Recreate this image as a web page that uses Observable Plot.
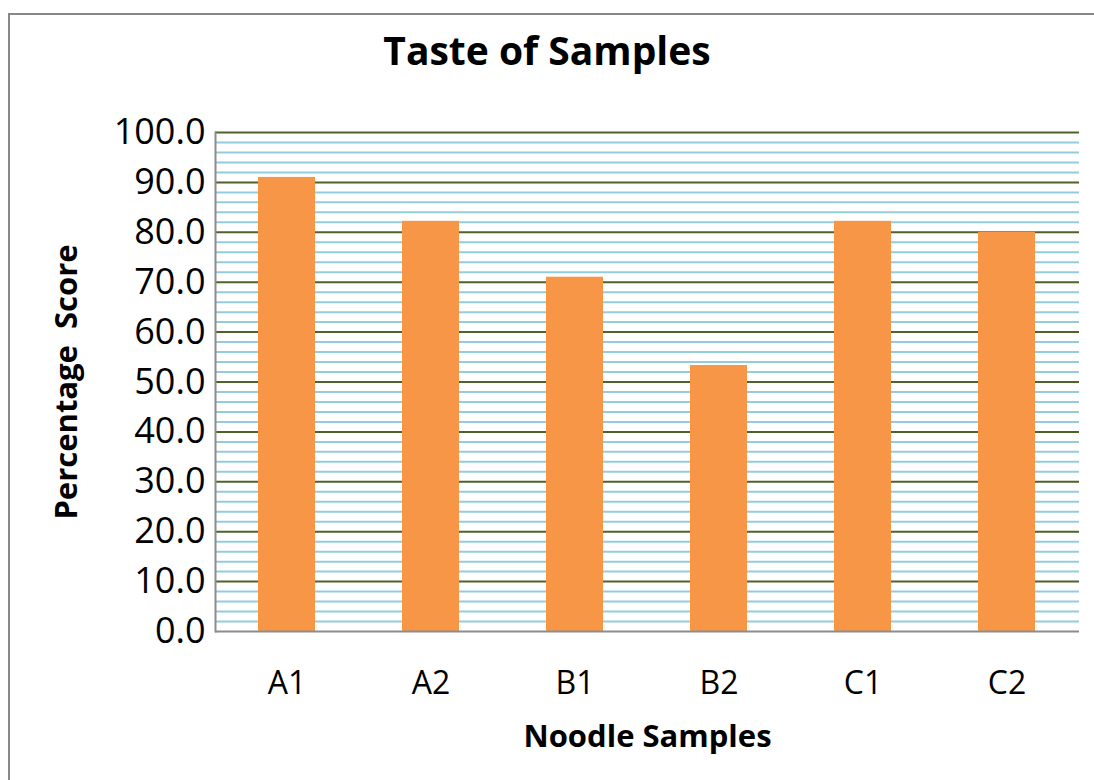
<!DOCTYPE html>
<html>
<head>
<meta charset="utf-8">
<script src="https://cdn.jsdelivr.net/npm/d3@7"></script>
<script src="https://cdn.jsdelivr.net/npm/@observablehq/plot@0.6"></script>
<style>
  html, body { margin: 0; padding: 0; background: #fff; overflow: hidden; }
  #frame { position: absolute; left: 8px; top: 13px; width: 1100px; height: 800px;
           border-left: 2px solid #888; border-top: 2px solid #888; box-sizing: border-box; }
  #title { position: absolute; left: 0; width: 1094px; top: 23px; text-align: center;
           font-family: "Open Sans", sans-serif; font-weight: bold; font-size: 39px; color: #000; }
  #chart { position: absolute; left: 0; top: 0; }
</style>
</head>
<body>
<div id="frame"></div>
<div id="title">Taste of Samples</div>
<div id="chart"></div>
<script>
const samples = ["A1", "A2", "B1", "B2", "C1", "C2"];
const scores = [91.0, 82.2, 71.0, 53.3, 82.2, 80.0];
const yTicks = [0, 10, 20, 30, 40, 50, 60, 70, 80, 90, 100];
const minorTicks = d3.range(0, 101, 2).filter(v => v % 10 !== 0);

const data = samples.map((s, i) => ({sample: s, score: scores[i]}));

const plot = Plot.plot({
  width: 1094,
  height: 780,
  marginLeft: 215,
  marginRight: 15,
  marginTop: 132,
  marginBottom: 149,
  style: {fontFamily: "'Open Sans', sans-serif", fontSize: "30px", color: "#000", background: "transparent"},
  x: {domain: samples, paddingInner: 0.604, paddingOuter: 0.302, label: null},
  y: {domain: [0, 100], label: null},
  marks: [
    Plot.ruleY(minorTicks, {stroke: "#93cddd", strokeWidth: 2}),
    Plot.ruleY(yTicks.filter(v => v > 0), {stroke: "#4f6228", strokeWidth: 2}),
    Plot.barY(data, {x: "sample", y: "score", fill: "#f79646"}),
    Plot.ruleY([0], {stroke: "#8c8c8c", strokeWidth: 2}),
    Plot.frame({anchor: "left", stroke: "#8c8c8c", strokeWidth: 2}),
    Plot.axisY({ticks: yTicks, tickFormat: d3.format(".1f"), tickSize: 0, tickPadding: 10, fontSize: 36, label: null}),
    Plot.axisX({tickSize: 0, tickPadding: 40, fontSize: 32, label: null}),
    Plot.text(["Noodle Samples"], {frameAnchor: "bottom", dy: 115, fontWeight: "bold", fontSize: 31}),
    Plot.text(["Percentage  Score"], {frameAnchor: "left", dx: -148, rotate: -90, textAnchor: "middle", fontWeight: "bold", fontSize: 31})
  ]
});
document.getElementById("chart").appendChild(plot);
</script>
</body>
</html>
